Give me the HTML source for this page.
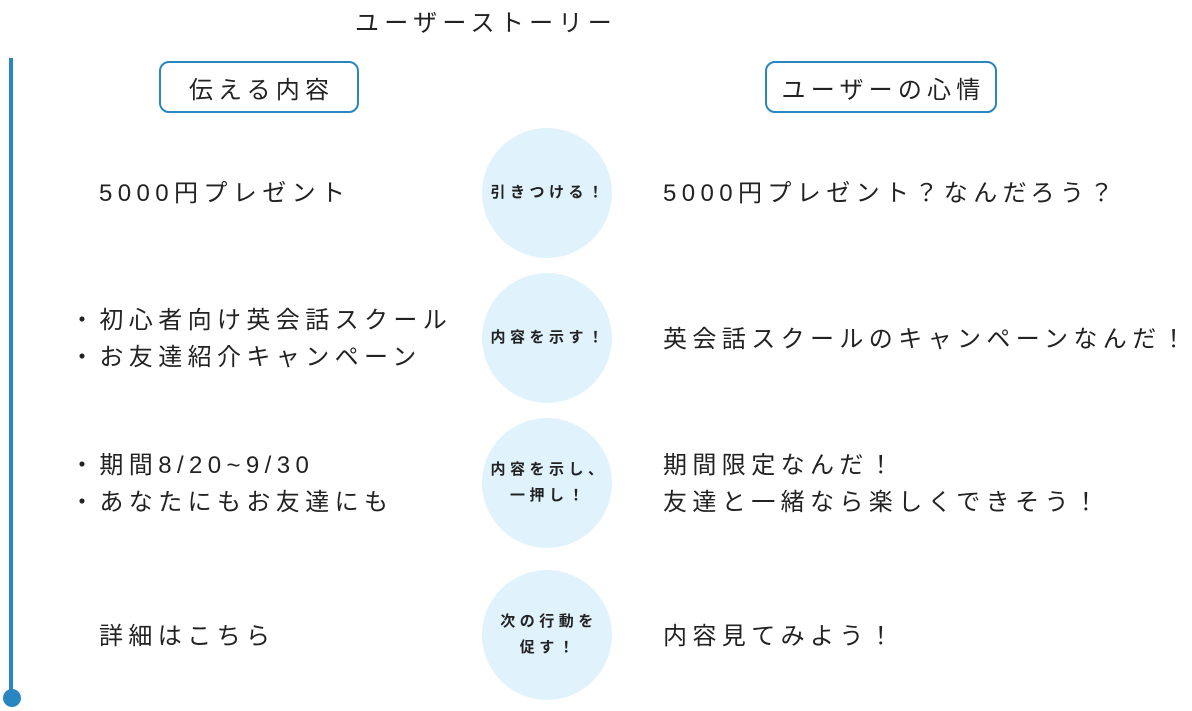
<!DOCTYPE html>
<html><head><meta charset="utf-8"><style>
body{margin:0;width:1192px;height:711px;background:#fff;position:relative;overflow:hidden;font-family:"Liberation Sans","Noto Sans CJK JP",sans-serif;color:#222}
.a{position:absolute;white-space:nowrap}
.t{font-size:24px;letter-spacing:5.4px;line-height:37px}
.box{position:absolute;border:2px solid #2a86c0;border-radius:10px;box-sizing:border-box;font-size:24px;letter-spacing:5.2px;display:flex;align-items:center;justify-content:center}
.c{position:absolute;width:130px;height:130px;border-radius:50%;background:#e0f3fd;display:flex;align-items:center;justify-content:center;text-align:center;font-size:15px;font-weight:bold;letter-spacing:4.5px;line-height:26px;padding-left:4px;box-sizing:border-box}
</style></head><body>
<div class="a" style="left:355px;top:3px;font-size:24px;letter-spacing:5.3px">ユーザーストーリー</div>
<div class="a" style="left:9px;top:58px;width:4px;height:640px;background:#2a86c0"></div>
<div class="a" style="left:3px;top:689px;width:18px;height:18px;border-radius:50%;background:#2a86c0"></div>
<div class="box" style="left:159px;top:61px;width:200px;height:52px;padding-left:5px">伝える内容</div>
<div class="box" style="left:765px;top:61px;width:232px;height:52px;padding-left:5px">ユーザーの心情</div>
<div class="c" style="left:482px;top:128px">引きつける！</div>
<div class="c" style="left:482px;top:273px">内容を示す！</div>
<div class="c" style="left:482px;top:418px">内容を示し、<br>一押し！</div>
<div class="c" style="left:482px;top:570px">次の行動を<br>促す！</div>
<div class="a t" style="left:99px;top:175px">5000円プレゼント</div>
<div class="a t" style="left:70px;top:302px">・初心者向け英会話スクール<br>・お友達紹介キャンペーン</div>
<div class="a t" style="left:70px;top:447px">・期間8/20~9/30<br>・あなたにもお友達にも</div>
<div class="a t" style="left:99px;top:618px">詳細はこちら</div>
<div class="a t" style="left:663px;top:175px">5000円プレゼント？なんだろう？</div>
<div class="a t" style="left:663px;top:321px">英会話スクールのキャンペーンなんだ！</div>
<div class="a t" style="left:663px;top:447px">期間限定なんだ！<br>友達と一緒なら楽しくできそう！</div>
<div class="a t" style="left:663px;top:618px">内容見てみよう！</div>
</body></html>
